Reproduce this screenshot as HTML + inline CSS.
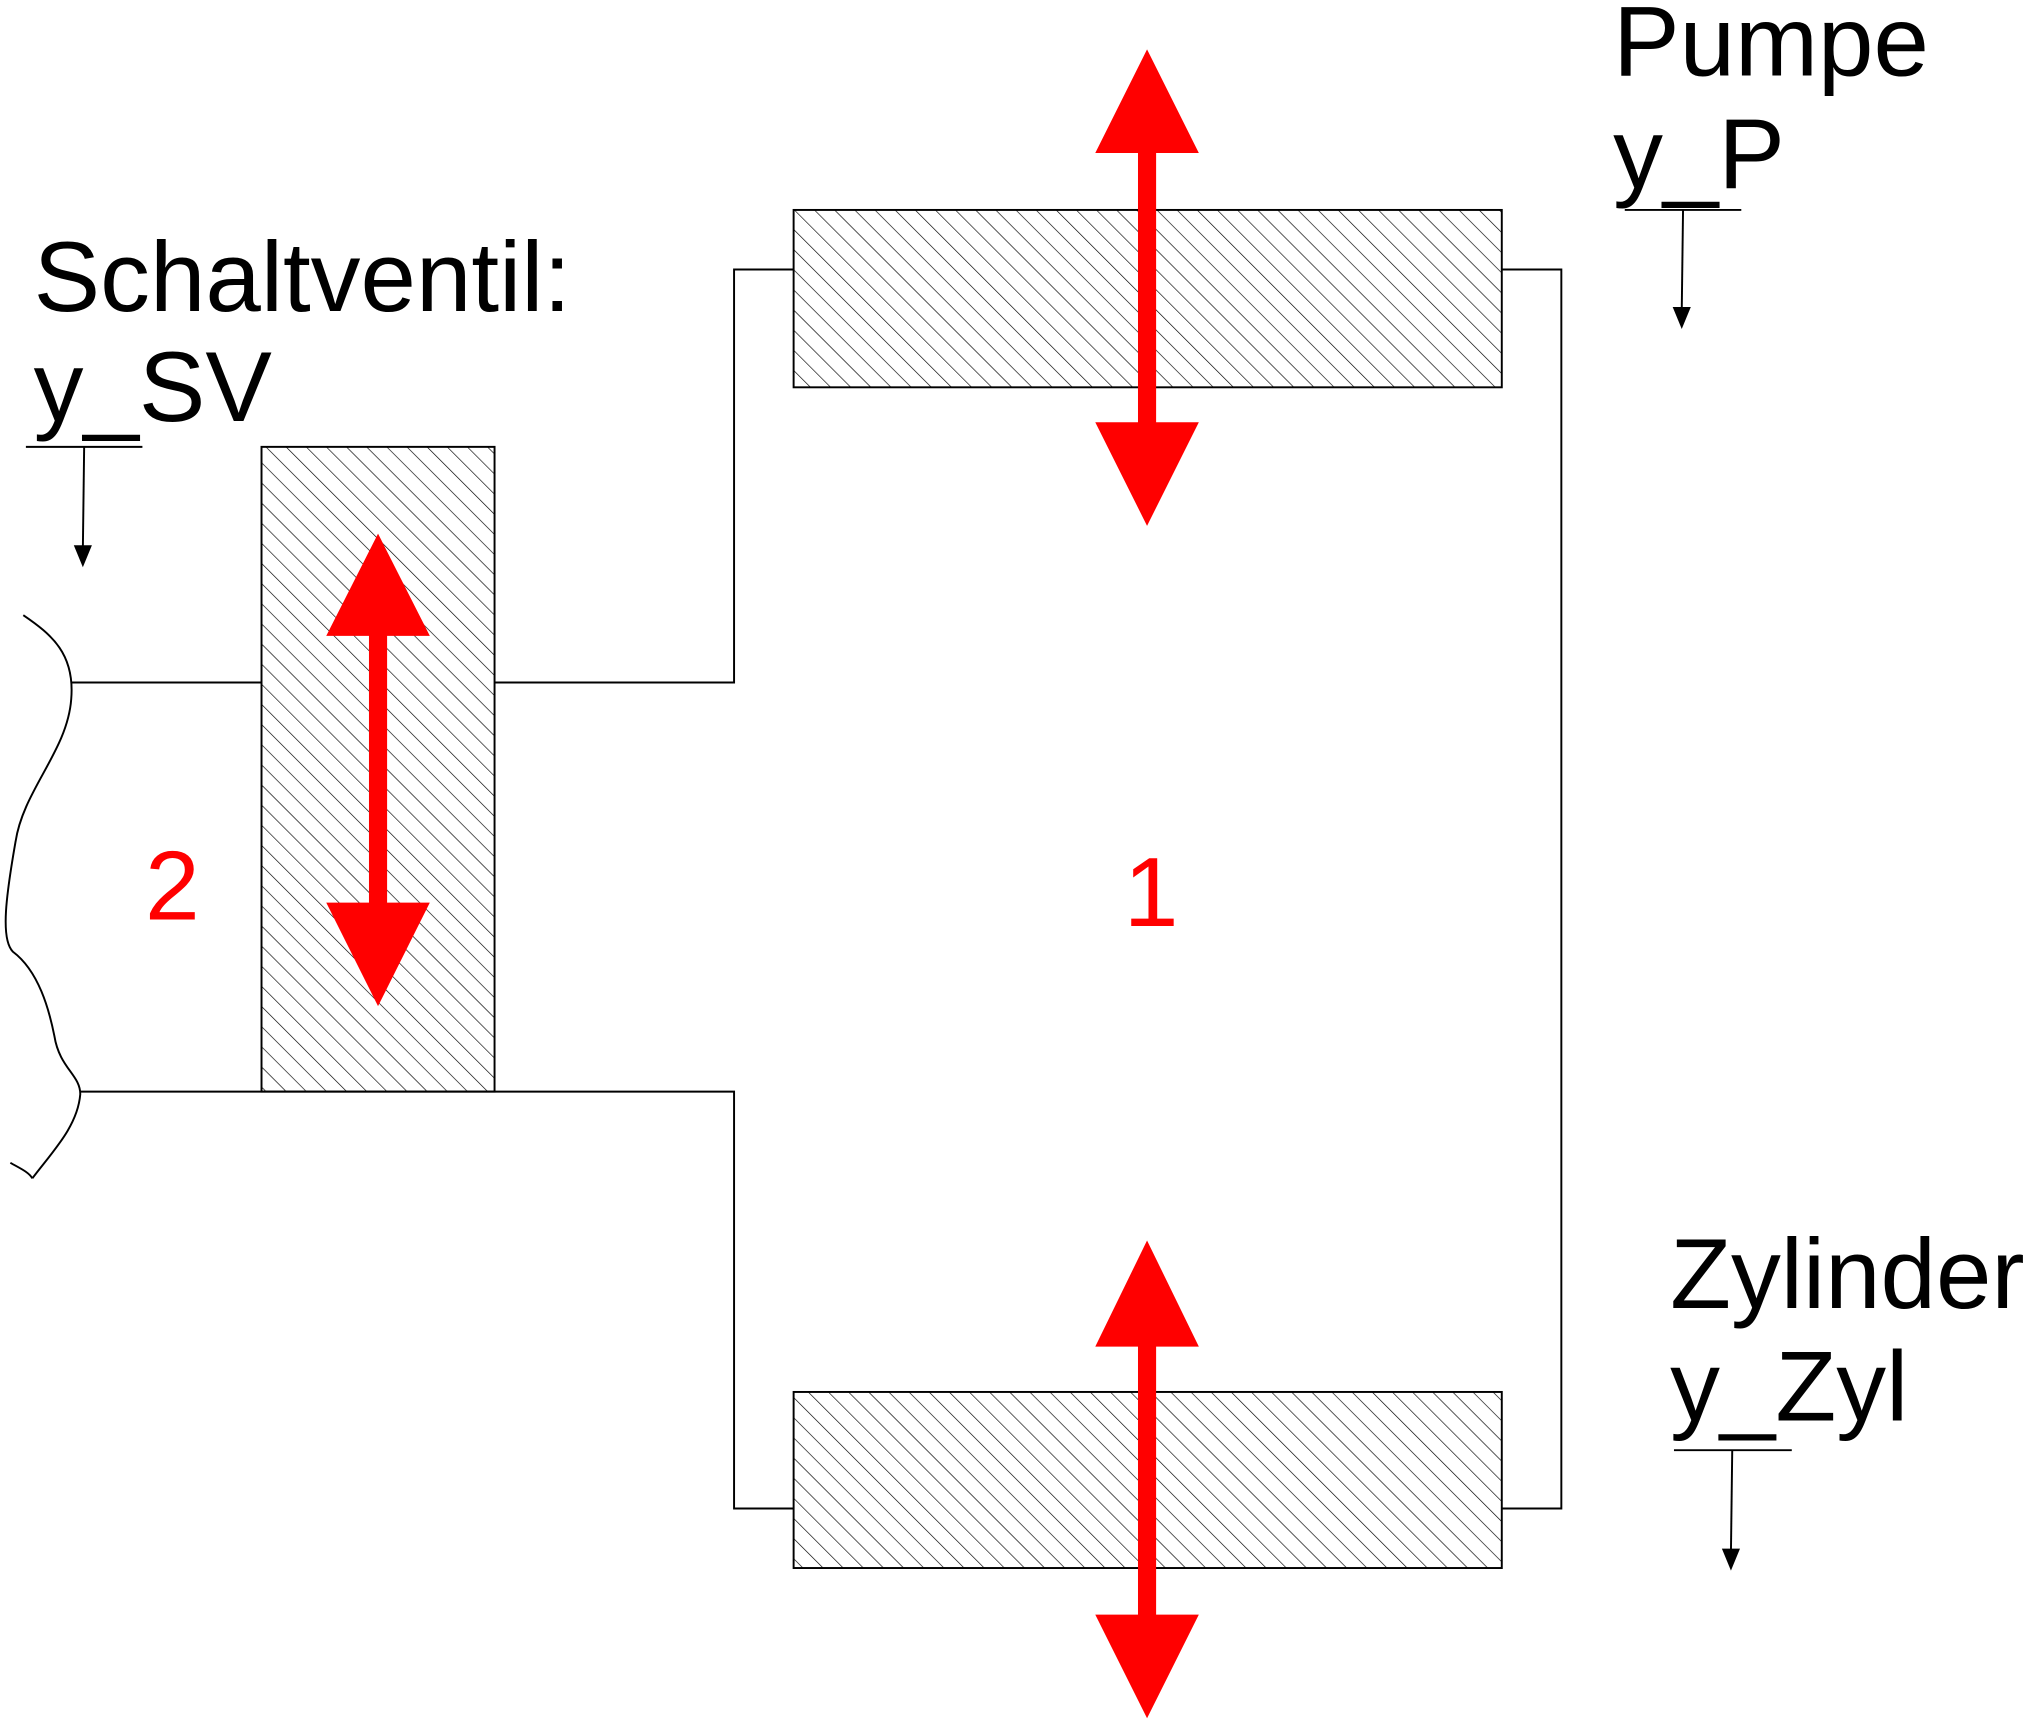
<!DOCTYPE html>
<html><head><meta charset="utf-8"><style>
html,body{margin:0;padding:0;background:#fff;}
svg{display:block;}
text{font-family:"Liberation Sans",Arial,sans-serif;}
</style></head><body>
<svg width="2030" height="1721" viewBox="0 0 1568 1329" xmlns="http://www.w3.org/2000/svg">
<defs>
<pattern id="h" patternUnits="userSpaceOnUse" width="11" height="11" patternTransform="rotate(-45)">
<line x1="0" y1="0" x2="0" y2="11" stroke="#000" stroke-width="1"/>
</pattern>
</defs>
<g fill="none" stroke="#000" stroke-width="1.5">
<path d="M55,527 H202 M382,527 H567 V208 H613 M1160,208 H1206 V1165 H1160 M62,843 H567 V1165 H613"/>
<path d="M18,475 C40,490 58,505 55,540 C52,580 18,610 12,650 C5,690 0,725 10,735 C30,750 38,780 42,800 C46,825 62,830 62,845 C60,870 40,890 25,910 M8,898 C15,902 22,905 25,910"/>
</g>
<rect x="613" y="162" width="547" height="137" fill="url(#h)" stroke="#000" stroke-width="1.5"/>
<rect x="613" y="1075" width="547" height="136" fill="url(#h)" stroke="#000" stroke-width="1.5"/>
<rect x="202" y="345" width="180" height="498" fill="url(#h)" stroke="#000" stroke-width="1.5"/>
<g fill="#f00">
<rect x="879" y="115" width="14" height="215"/>
<path d="M886,38 L926,118 L846,118z M886,406 L926,326 L846,326z"/>
<rect x="879" y="1036" width="14" height="215"/>
<path d="M886,958 L926,1040 L846,1040z M886,1327 L926,1247 L846,1247z"/>
<rect x="285" y="488" width="14" height="212"/>
<path d="M292,412 L332,491 L252,491z M292,777 L332,697 L252,697z"/>
</g>
<g stroke="#000" stroke-width="1.5">
<line x1="1255" y1="162" x2="1345" y2="162"/>
<line x1="1300" y1="162" x2="1299" y2="240"/>
<line x1="20" y1="345" x2="110" y2="345"/>
<line x1="65" y1="345" x2="64" y2="424"/>
<line x1="1293" y1="1120" x2="1384" y2="1120"/>
<line x1="1338" y1="1120" x2="1337" y2="1199"/>
</g>
<g fill="#000">
<path d="M1292,237 L1306,237 L1299,254z"/>
<path d="M57,421 L71,421 L64,438z"/>
<path d="M1330,1196 L1344,1196 L1337,1213z"/>
</g>
<g font-size="77" fill="#000">
<text x="1246" y="58">Pumpe</text>
<text x="1246" y="145">y_P</text>
<text x="26" y="240">Schaltventil:</text>
<text x="26" y="325">y_SV</text>
<text x="1290" y="1010">Zylinder</text>
<text x="1290" y="1097">y_Zyl</text>
</g>
<g font-size="76" fill="#f00">
<text x="112" y="710">2</text>
<text x="868" y="715">1</text>
</g>
</svg>
</body></html>
